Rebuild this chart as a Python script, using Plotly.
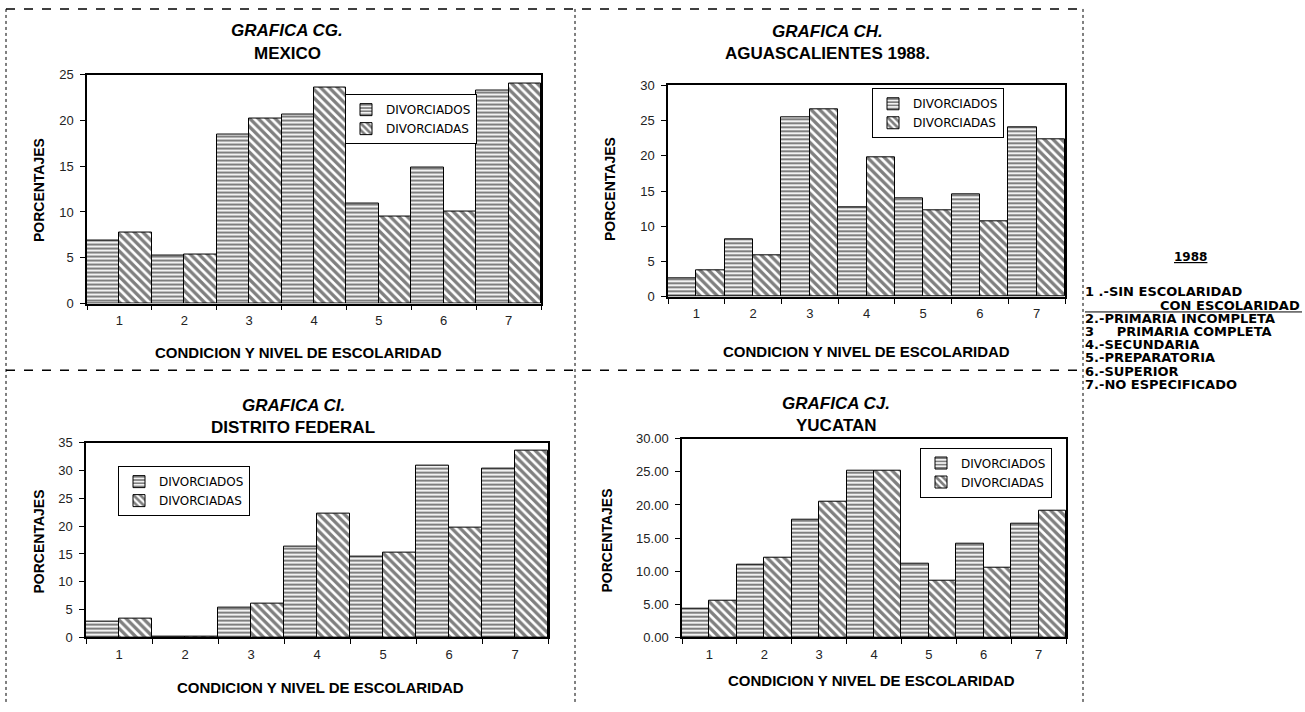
import plotly.graph_objects as go

W, H = 1305, 712

CATEGORIES = ["1", "2", "3", "4", "5", "6", "7"]
SERIES_NAMES = ["DIVORCIADOS", "DIVORCIADAS"]

MEXICO_M = [6.9, 5.3, 18.4, 20.6, 10.9, 14.9, 23.3]
MEXICO_F = [7.8, 5.4, 20.2, 23.6, 9.5, 10.0, 24.0]
AGS_M = [2.6, 8.1, 25.4, 12.7, 13.9, 14.6, 24.0]
AGS_F = [3.8, 5.9, 26.6, 19.8, 12.3, 10.7, 22.4]
DF_M = [2.9, 0.2, 5.3, 16.4, 14.6, 30.8, 30.4]
DF_F = [3.3, 0.1, 6.1, 22.2, 15.3, 19.8, 33.5]
YUC_M = [4.4, 11.0, 17.8, 25.2, 11.1, 14.2, 17.2]
YUC_F = [5.6, 12.0, 20.5, 25.1, 8.5, 10.6, 19.2]

TITLES_1 = ["GRAFICA CG.", "GRAFICA CH.", "GRAFICA CI.", "GRAFICA CJ."]
TITLES_2 = ["MEXICO", "AGUASCALIENTES 1988.", "DISTRITO FEDERAL", "YUCATAN"]
Y_MAX = [25, 30, 35, 30]
Y_FORMAT = ["d", "d", "d", ".2f"]
X_TITLE = "CONDICION Y NIVEL DE ESCOLARIDAD"
Y_TITLE = "PORCENTAJES"

SIDE_YEAR = "1988"
SIDE_LINES = ["1 .-SIN ESCOLARIDAD", "CON ESCOLARIDAD", "2.-PRIMARIA INCOMPLETA",
              "3    PRIMARIA COMPLETA", "4.-SECUNDARIA", "5.-PREPARATORIA",
              "6.-SUPERIOR", "7.-NO ESPECIFICADO"]

DATA = [(MEXICO_M, MEXICO_F), (AGS_M, AGS_F), (DF_M, DF_F), (YUC_M, YUC_F)]

FONT = "Liberation Sans, Arial, sans-serif"
WIDE = "DejaVu Sans, Verdana, sans-serif"

# layout in pixels: plot box (x0, x1, y0, y1), title center x, title y1, y2,
# y-title x, y-title y, x-title x, x-title y, legend x, y
PANELS = [
    dict(box=(87, 541, 69, 303), tx=287, ty=(24, 48), ytx=39, yty=187, xtx=298, xty=353, lg=(345, 89)),
    dict(box=(668, 1065, 80, 296), tx=827, ty=(25, 48), ytx=610, yty=186, xtx=866, xty=352, lg=(872, 83)),
    dict(box=(86, 548, 445, 644), tx=293, ty=(407, 430), ytx=39, yty=546, xtx=320, xty=695, lg=(118, 469)),
    dict(box=(682, 1066, 441, 644), tx=836, ty=(405, 428), ytx=607, yty=545, xtx=872, xty=688, lg=(920, 450)),
]


def fx(x):
    return x / W


def fy(y):
    return 1 - y / H


def note(x, y, text, size, family=FONT, xanchor="center", angle=0):
    return dict(x=fx(x), y=fy(y), xref="paper", yref="paper", text=text, showarrow=False,
                xanchor=xanchor, yanchor="middle", textangle=angle,
                font=dict(family=family, size=size, color="black"))


fig = go.Figure()
annotations = []
layout = {}

for i, p in enumerate(PANELS):
    k = "" if i == 0 else str(i + 1)
    lgname = "legend" + k
    m, f = DATA[i]
    fig.add_trace(go.Bar(
        x=CATEGORIES, y=m, name=SERIES_NAMES[0], xaxis="x" + k, yaxis="y" + k,
        legend=lgname,
        marker=dict(color="white", line=dict(color="black", width=1),
                    pattern=dict(shape="-", fgcolor="black", bgcolor="white", size=4, solidity=0.55)),
    ))
    fig.add_trace(go.Bar(
        x=CATEGORIES, y=f, name=SERIES_NAMES[1], xaxis="x" + k, yaxis="y" + k,
        legend=lgname,
        marker=dict(color="white", line=dict(color="black", width=1),
                    pattern=dict(shape="\\", fgcolor="black", bgcolor="white", size=6, solidity=0.55)),
    ))
    x0, x1, y0, y1 = p["box"]
    layout["xaxis" + k] = dict(
        domain=[fx(x0), fx(x1)], anchor="y" + k, type="category",
        showline=True, mirror=True, linecolor="black", linewidth=1.5,
        ticks="outside", tickson="boundaries", ticklen=5, tickcolor="black",
        tickfont=dict(family=FONT, size=13, color="#222"), showgrid=False, zeroline=False,
        ticklabelstandoff=4, fixedrange=True,
    )
    layout["yaxis" + k] = dict(
        domain=[fy(y1), fy(y0)], anchor="x" + k, range=[0, Y_MAX[i]], dtick=5,
        tickformat=Y_FORMAT[i],
        showline=True, mirror=True, linecolor="black", linewidth=1.5,
        ticks="outside", ticklen=5, tickcolor="black",
        tickfont=dict(family=FONT, size=13, color="#222"), showgrid=False, zeroline=False,
        ticklabelstandoff=4, fixedrange=True,
    )
    lx, ly = p["lg"]
    layout[lgname] = dict(
        x=fx(lx), y=fy(ly), xref="paper", yref="paper", xanchor="left", yanchor="top",
        bgcolor="white", bordercolor="black", borderwidth=1,
        font=dict(family=WIDE, size=12, color="black"),
        itemwidth=30, tracegroupgap=0, traceorder="normal",
    )
    annotations.append(note(p["tx"], p["ty"][0], "<b><i>" + TITLES_1[i] + "</i></b>", 17))
    annotations.append(note(p["tx"], p["ty"][1], "<b>" + TITLES_2[i] + "</b>", 17))
    annotations.append(note(p["ytx"], p["yty"], "<b>" + Y_TITLE + "</b>", 14, angle=-90))
    annotations.append(note(p["xtx"], p["xty"], "<b>" + X_TITLE + "</b>", 15))

# side legend text
annotations.append(note(1190, 255, "<b><u>" + SIDE_YEAR + "</u></b>", 12, family=WIDE))
side_y = [291, 304.5, 318, 331.5, 345, 358.5, 372, 385.5]
for j, (t, yy) in enumerate(zip(SIDE_LINES, side_y)):
    if j == 1:
        annotations.append(note(1302, yy, "<b>" + t + "</b>", 13, family=WIDE, xanchor="right"))
    else:
        txt = t.replace("    ", "&nbsp;&nbsp;&nbsp;&nbsp;&nbsp;")
        annotations.append(note(1083, yy, "<b>" + txt + "</b>", 13, family=WIDE, xanchor="left"))

dash = dict(color="black", width=1, dash="dot")
thick = dict(color="black", width=1.5, dash="dash")
shapes = [
    dict(type="line", xref="paper", yref="paper", x0=fx(6), x1=fx(1085), y0=fy(2), y1=fy(2), line=thick),
    dict(type="line", xref="paper", yref="paper", x0=fx(6), x1=fx(6), y0=fy(2), y1=fy(712), line=dash),
    dict(type="line", xref="paper", yref="paper", x0=fx(575), x1=fx(575), y0=fy(2), y1=fy(712), line=dash),
    dict(type="line", xref="paper", yref="paper", x0=fx(1083), x1=fx(1083), y0=fy(2), y1=fy(712), line=dash),
    dict(type="line", xref="paper", yref="paper", x0=fx(6), x1=fx(1083), y0=fy(371), y1=fy(371), line=thick),
    dict(type="line", xref="paper", yref="paper", x0=fx(1085), x1=fx(1302), y0=fy(311.5), y1=fy(311.5),
         line=dict(color="black", width=1)),
]

fig.update_layout(
    width=W, height=H, margin=dict(l=0, r=0, t=0, b=0),
    paper_bgcolor="white", plot_bgcolor="white",
    barmode="group", bargap=0, bargroupgap=0,
    font=dict(family=FONT, color="black"),
    annotations=annotations, shapes=shapes, showlegend=True,
    **layout,
)

fig.write_html("out.html", config={"displayModeBar": False},
               post_script="document.body.style.margin='0px';document.body.style.overflow='hidden';")
